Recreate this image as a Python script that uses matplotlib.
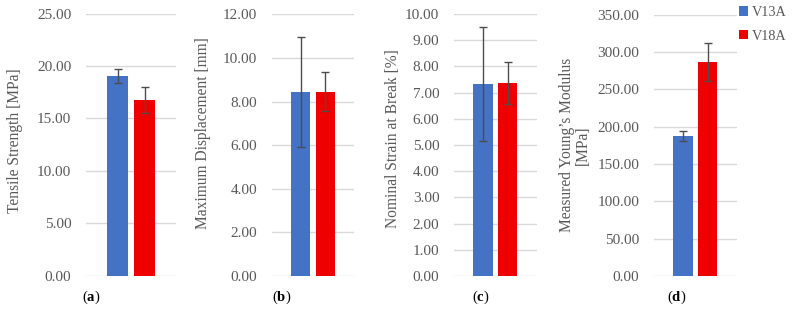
import matplotlib
matplotlib.use("Agg")
import matplotlib.pyplot as plt
from matplotlib.patches import Patch
import numpy as np

series = ["V13A", "V18A"]
colors = ["#4472C4", "#EE0000"]

tensile = [19.05, 16.77]
tensile_err = [0.70, 1.20]
displacement = [8.43, 8.46]
displacement_err = [2.51, 0.89]
strain = [7.33, 7.36]
strain_err = [2.18, 0.79]
modulus = [187.1, 287.0]
modulus_err = [6.9, 25.7]

ylabels = ["Tensile Strength [MPa]", "Maximum Displacement [mm]",
           "Nominal Strain at Break [%]", "Measured Young\u2019s Modulus\n[MPa]"]
yticks = [np.arange(0, 25.01, 5), np.arange(0, 12.01, 2),
          np.arange(0, 10.01, 1), np.arange(0, 350.01, 50)]
panel_labels = ["a", "b", "c", "d"]

plt.rcParams["font.family"] = ["Liberation Serif", "DejaVu Serif"]
plt.rcParams["mathtext.fontset"] = "custom"
plt.rcParams["mathtext.rm"] = "Liberation Serif"
plt.rcParams["mathtext.bf"] = "Liberation Serif:bold"

W, H = 795, 311
fig = plt.figure(figsize=(W / 100, H / 100), dpi=100)

# axes boxes in pixels: left, right, top(at max), bottom(at 0)
boxes = [(86, 176, 13.7, 275.7), (271.7, 354, 14.3, 276),
         (454, 536.7, 14, 276), (654, 736.7, 14.7, 276)]
label_x = [15, 203.3, 393.3, 575]
label_y = [0.515, 0.545, 0.525, 0.50]
plabel_x = [82, 271.7, 471.7, 667]

data = [(tensile, tensile_err), (displacement, displacement_err),
        (strain, strain_err), (modulus, modulus_err)]

grey = "#595959"
for i, (vals, errs) in enumerate(data):
    l, r, t, b = boxes[i]
    ax = fig.add_axes([l / W, 1 - b / H, (r - l) / W, (b - t) / H])
    xs = [-0.15, 0.15]
    ax.bar(xs, vals, width=0.233, color=colors, zorder=3)
    ax.errorbar(xs, vals, yerr=errs, fmt="none", ecolor="#4d4d4d",
                elinewidth=1.0, capsize=2.6, capthick=1.0, zorder=4)
    ax.set_xlim(-0.5, 0.5)
    ax.set_ylim(yticks[i][0], yticks[i][-1])
    ax.set_yticks(yticks[i])
    ax.set_yticklabels([f"{v:.2f}" for v in yticks[i]])
    ax.set_xticks([])
    for s in ax.spines.values():
        s.set_visible(False)
    ax.yaxis.grid(True, color="#d9d9d9", linewidth=1.0, zorder=0)
    ax.set_axisbelow(True)
    ax.tick_params(axis="y", length=0, pad=10.5, labelsize=11, labelcolor=grey)
    ax.set_ylabel(ylabels[i], fontsize=11.2, color=grey, linespacing=1.05)
    ax.yaxis.set_label_coords((label_x[i] - l) / (r - l), label_y[i])
    ax.yaxis.label.set_horizontalalignment("center")
    ax.yaxis.label.set_verticalalignment("center")
    fig.text(plabel_x[i] / W, 1 - 297 / H,
             "($\\mathbf{%s}$)" % panel_labels[i],
             fontsize=10.5, color="black", ha="left", va="center")

handles = [Patch(facecolor=c, edgecolor="none") for c in colors]
fig.legend(handles, series, loc="upper left",
           bbox_to_anchor=(739 / W, 1 - 6 / H), frameon=False,
           fontsize=10.3, handlelength=0.65, handleheight=0.65,
           handletextpad=0.25, labelspacing=0.75, borderpad=0,
           borderaxespad=0, labelcolor=grey)

fig.savefig("out.png", dpi=100)
